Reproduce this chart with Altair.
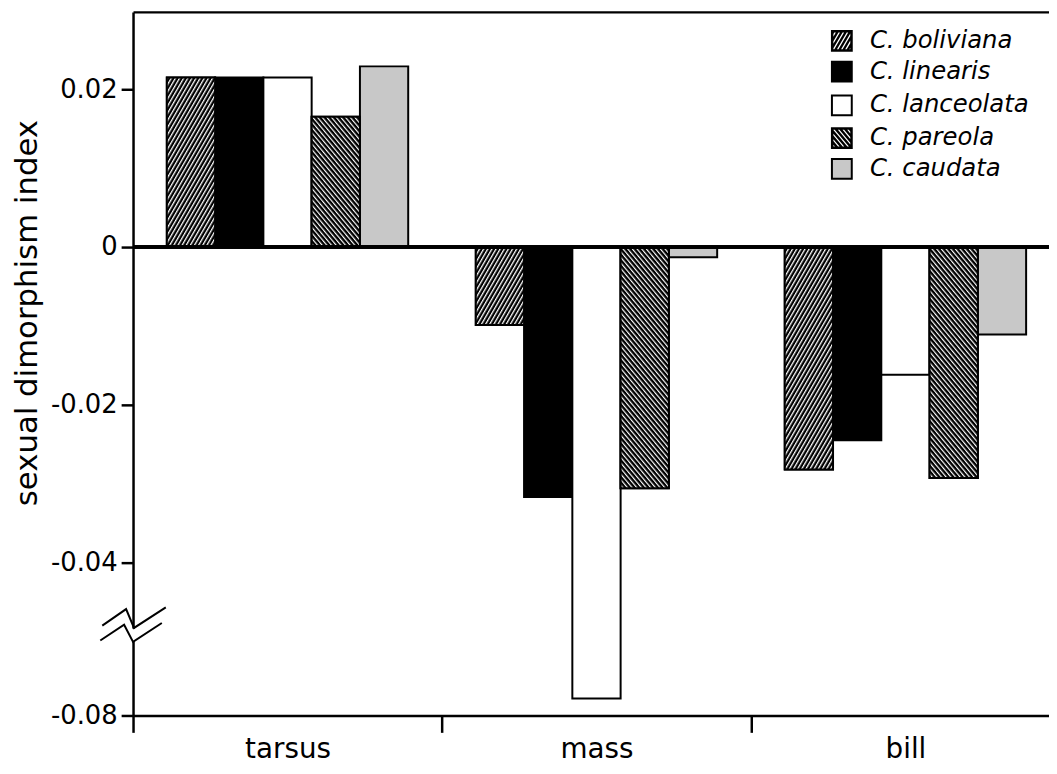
import math
import altair as alt
import pandas as pd
from urllib.parse import quote

# ---------------- data ----------------
traits = ["tarsus", "mass", "bill"]
species = ["C. boliviana", "C. linearis", "C. lanceolata", "C. pareola", "C. caudata"]
tarsus_vals = [0.0215, 0.0215, 0.0215, 0.0165, 0.0229]
mass_vals = [-0.0099, -0.0317, -0.0756, -0.0306, -0.0013]
bill_vals = [-0.0282, -0.0245, -0.0162, -0.0293, -0.0111]

y_tick_values = [0.02, 0.0, -0.02, -0.04, -0.08]
y_tick_labels = ["0.02", "0", "-0.02", "-0.04", "-0.08"]

# axis break: below -0.04 the scale is compressed
BREAK_AT = -0.04
K = 0.4843


def compress(v):
    return v if v >= BREAK_AT else BREAK_AT + (v - BREAK_AT) * K


rows = []
for t, vals in zip(traits, [tarsus_vals, mass_vals, bill_vals]):
    for s, v in zip(species, vals):
        rows.append({"trait": t, "species": s, "value": v})
df = pd.DataFrame(rows)

# ---------------- styles ----------------
FONT = "DejaVu Sans"
fills = ["#000000", "#000000", "#ffffff", "#000000", "#c8c8c8"]
hatched = ["C. boliviana", "C. pareola"]


def hatch_uri(angle, period, white):
    svg = (
        "<svg xmlns='http://www.w3.org/2000/svg' width='100%' height='100%'>"
        "<defs><pattern id='h' width='{p}' height='{p}' patternUnits='userSpaceOnUse' "
        "patternTransform='rotate({a})'>"
        "<rect width='{p}' height='{p}' fill='black'/>"
        "<rect width='{w}' height='{p}' fill='white'/></pattern></defs>"
        "<rect width='100%' height='100%' fill='url(#h)'/></svg>"
    ).format(p=period, a=angle, w=white)
    return "data:image/svg+xml;charset=utf-8," + quote(svg, safe="")


URI_BOL = hatch_uri(30, 3.6, 1.3)
URI_PAR = hatch_uri(-40, 3.6, 1.2)


# legend symbol: black square with white diagonal stripes cut out as holes
def clip_halfplane(poly, n, c, keep_ge):
    out = []
    m = len(poly)
    for i in range(m):
        p, q = poly[i], poly[(i + 1) % m]
        dp = n[0] * p[0] + n[1] * p[1] - c
        dq = n[0] * q[0] + n[1] * q[1] - c
        inp = dp >= 0 if keep_ge else dp <= 0
        inq = dq >= 0 if keep_ge else dq <= 0
        if inp:
            out.append(p)
        if inp != inq:
            t = dp / (dp - dq)
            out.append((p[0] + t * (q[0] - p[0]), p[1] + t * (q[1] - p[1])))
    return out


def hatch_symbol(angle_deg, period, white, half=10.0):
    a = math.radians(angle_deg)
    d = (math.cos(a), -math.sin(a))
    n = (-d[1], d[0])
    s = 1.0 / half
    outer = 1.1
    path = f"M{-outer},{-outer}L{outer},{-outer}L{outer},{outer}L{-outer},{outer}Z"
    inner = 0.85
    sq = [(-inner, -inner), (inner, -inner), (inner, inner), (-inner, inner)]
    span = (abs(n[0]) + abs(n[1])) * inner
    per, w = period * s, white * s
    k = -int(span / per) - 2
    while k * per < span + per:
        c0 = k * per
        poly = clip_halfplane(sq, n, c0, True)
        if len(poly) >= 3:
            poly = clip_halfplane(poly, n, c0 + w, False)
        if len(poly) >= 3:
            area = sum(poly[i][0] * poly[(i + 1) % len(poly)][1] -
                       poly[(i + 1) % len(poly)][0] * poly[i][1] for i in range(len(poly)))
            if area > 0:
                poly = poly[::-1]
            path += "M" + "L".join(f"{x:.3f},{y:.3f}" for x, y in poly) + "Z"
        k += 1
    return path


SYM_BOL = hatch_symbol(60, 3.6, 1.3)
SYM_PAR = hatch_symbol(-50, 3.6, 1.2)
sym_expr = (f"datum.value == 'C. boliviana' ? '{SYM_BOL}' : "
            f"datum.value == 'C. pareola' ? '{SYM_PAR}' : 'square'")
symw_expr = "datum.value == 'C. boliviana' || datum.value == 'C. pareola' ? 0 : 2"

yp_expr = (f"datum['value'] >= {BREAK_AT} ? datum['value'] : "
           f"{BREAK_AT} + (datum['value'] - ({BREAK_AT})) * {K}")

tick_pos = [compress(v) for v in y_tick_values]
label_expr = "''"
for p, l in reversed(list(zip(tick_pos, y_tick_labels))):
    label_expr = f"abs(datum.value - ({p})) < 1e-6 ? '{l}' : " + label_expr

Y_DOMAIN = [-0.0594, 0.02981]
yscale = alt.Scale(domain=Y_DOMAIN, nice=False, zero=False)
xscale = alt.Scale(domain=traits, range=[0, 934], paddingInner=0, paddingOuter=0)
xoff = alt.XOffset("species:N", sort=species,
                   scale=alt.Scale(domain=species, paddingInner=0, paddingOuter=0.7))

base = alt.Chart(df).transform_calculate(yp=yp_expr)

bars = base.mark_bar(stroke="black", strokeWidth=2, strokeJoin="miter").encode(
    x=alt.X("trait:N", sort=traits, scale=xscale,
            axis=alt.Axis(orient="bottom", title=None, labelAngle=0, tickBand="extent",
                          tickSize=17, tickWidth=2.5, tickColor="black",
                          domainColor="black", domainWidth=2.5,
                          labelFont=FONT, labelFontSize=28, labelColor="black",
                          labelPadding=3)),
    xOffset=xoff,
    y=alt.Y("yp:Q", scale=yscale,
            axis=alt.Axis(values=tick_pos, labelExpr=label_expr,
                          tickSize=12, tickWidth=2.5, tickColor="black",
                          domainColor="black", domainWidth=2.5,
                          labelFont=FONT, labelFontSize=26, labelColor="black",
                          labelPadding=4, grid=False,
                          title="sexual dimorphism index", titleFont=FONT,
                          titleFontSize=31, titleFontWeight="normal", titleColor="black",
                          titleX=-90, titleY=303)),
    y2=alt.datum(0),
    color=alt.Color("species:N", sort=species,
                    scale=alt.Scale(domain=species, range=fills),
                    legend=alt.Legend(title=None, orient="none", legendX=702, legendY=17,
                                      symbolType={"expr": sym_expr}, symbolSize=400,
                                      symbolStrokeColor="black",
                                      symbolStrokeWidth={"expr": symw_expr},
                                      labelFont=FONT, labelFontStyle="italic",
                                      labelFontSize=24.5, labelColor="black",
                                      labelLimit=400,
                                      rowPadding=5, labelOffset=16)),
)

hatch = base.transform_filter(
    alt.FieldOneOfPredicate(field="species", oneOf=hatched)
).transform_calculate(
    url=f"datum.species == 'C. boliviana' ? '{URI_BOL}' : '{URI_PAR}'"
).mark_image(aspect=False).encode(
    x=alt.X("trait:N", sort=traits, scale=xscale, axis=None),
    xOffset=xoff,
    y=alt.Y("yp:Q", scale=yscale, axis=None),
    y2=alt.datum(0),
    url=alt.Url("url:N"),
)

outline = base.transform_filter(
    alt.FieldOneOfPredicate(field="species", oneOf=hatched)
).mark_bar(fillOpacity=0, stroke="black", strokeWidth=2, strokeJoin="miter").encode(
    x=alt.X("trait:N", sort=traits, scale=xscale,
            axis=alt.Axis(orient="top", title=None, labels=False, ticks=False,
                          domainColor="black", domainWidth=2.5)),
    xOffset=xoff,
    y=alt.Y("yp:Q", scale=yscale, axis=None),
    y2=alt.datum(0),
)

zero = alt.Chart(df).mark_rule(color="black", strokeWidth=2.5).encode(
    y=alt.YDatum(0, scale=yscale, axis=None)
)

# axis-break ornament (pixel x offsets from the axis, y in axis units)
brk = pd.DataFrame({
    "line": [1, 1, 1, 1, 2, 2, 2, 2],
    "order": [0, 1, 2, 3, 0, 1, 2, 3],
    "bx": [-31, -7, 1, 33, -33, -9, 0, 29],
    "by": [(246 - y) / 7950 for y in [627.7, 611, 630, 609.3, 642.7, 626.7, 644, 625]],
})
cover = alt.Chart(brk).mark_rule(color="white", strokeWidth=7).encode(
    x=alt.value(0),
    y=alt.YDatum((246 - 631) / 7950, scale=yscale, axis=None),
    y2=alt.Y2Datum((246 - 643) / 7950),
)
zig = alt.Chart(brk).mark_line(color="black", strokeWidth=2).encode(
    x=alt.X("bx:Q", scale=None, axis=None),
    y=alt.Y("by:Q", scale=yscale, axis=None),
    detail="line:N",
    order="order:Q",
)

chart = alt.layer(bars, hatch, outline, zero, cover, zig).resolve_axis(
    x="independent", y="independent"
).properties(
    width=923, height=709,
    autosize=alt.AutoSizeParams(type="none"),
    padding={"left": 126, "top": 1, "right": 0, "bottom": 48},
).configure_view(stroke=None)

chart.save("out.html", embed_options={"renderer": "svg", "actions": False})
